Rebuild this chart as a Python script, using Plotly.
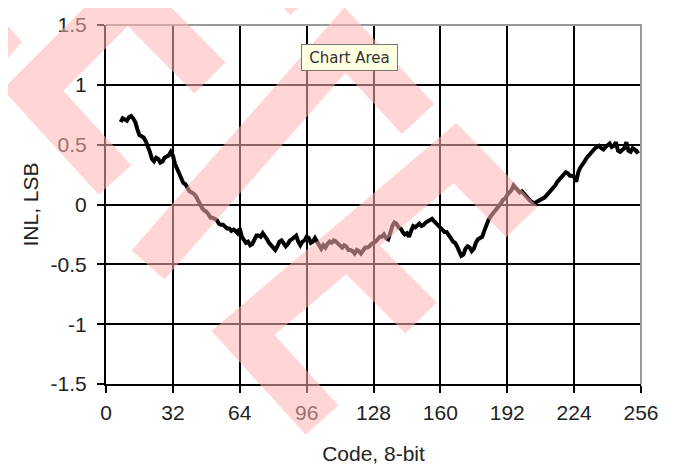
import plotly.graph_objects as go

# INL per code (codes 7..255)
inl = [
    0.69, 0.72, 0.71, 0.70, 0.73, 0.74, 0.72, 0.69, 0.63, 0.58,
    0.57, 0.56, 0.53, 0.49, 0.44, 0.38, 0.36, 0.39, 0.38, 0.35,
    0.36, 0.39, 0.40, 0.41, 0.44, 0.41, 0.34, 0.30, 0.25, 0.21,
    0.18, 0.17, 0.13, 0.11, 0.10, 0.09, 0.07, 0.03, 0.01, -0.03,
    -0.05, -0.06, -0.08, -0.11, -0.11, -0.12, -0.13, -0.16, -0.17, -0.17,
    -0.19, -0.20, -0.20, -0.22, -0.21, -0.22, -0.24, -0.20, -0.27, -0.30,
    -0.32, -0.31, -0.34, -0.33, -0.29, -0.26, -0.26, -0.27, -0.24, -0.26,
    -0.29, -0.32, -0.34, -0.35, -0.38, -0.35, -0.31, -0.30, -0.32, -0.35,
    -0.33, -0.30, -0.29, -0.27, -0.26, -0.31, -0.34, -0.31, -0.30, -0.27,
    -0.28, -0.32, -0.31, -0.28, -0.31, -0.35, -0.37, -0.34, -0.36, -0.33,
    -0.31, -0.32, -0.30, -0.31, -0.33, -0.35, -0.36, -0.34, -0.35, -0.38,
    -0.38, -0.39, -0.41, -0.38, -0.39, -0.41, -0.38, -0.36, -0.36, -0.35,
    -0.33, -0.32, -0.31, -0.29, -0.27, -0.27, -0.25, -0.28, -0.29, -0.24,
    -0.18, -0.15, -0.16, -0.19, -0.20, -0.23, -0.25, -0.24, -0.27, -0.22,
    -0.18, -0.19, -0.17, -0.16, -0.18, -0.17, -0.15, -0.14, -0.13, -0.12,
    -0.14, -0.16, -0.18, -0.20, -0.21, -0.23, -0.23, -0.25, -0.28, -0.31,
    -0.32, -0.35, -0.39, -0.43, -0.42, -0.37, -0.35, -0.36, -0.39, -0.37,
    -0.32, -0.29, -0.28, -0.27, -0.22, -0.17, -0.13, -0.10, -0.08, -0.06,
    -0.04, -0.01, 0.01, 0.04, 0.05, 0.08, 0.10, 0.12, 0.16, 0.14,
    0.13, 0.10, 0.11, 0.09, 0.07, 0.04, 0.03, 0.02, 0.01, 0.02,
    0.03, 0.04, 0.05, 0.06, 0.08, 0.10, 0.11, 0.14, 0.16, 0.19,
    0.21, 0.24, 0.26, 0.27, 0.26, 0.24, 0.24, 0.23, 0.19, 0.27,
    0.31, 0.33, 0.36, 0.39, 0.41, 0.43, 0.46, 0.47, 0.48, 0.49,
    0.47, 0.46, 0.48, 0.50, 0.51, 0.48, 0.49, 0.52, 0.45, 0.44,
    0.46, 0.47, 0.52, 0.45, 0.44, 0.47, 0.46, 0.44, 0.45,
]
codes = list(range(7, 7 + len(inl)))

x_ticks = [0, 32, 64, 96, 128, 160, 192, 224, 256]
y_ticks = [-1.5, -1, -0.5, 0, 0.5, 1, 1.5]
y_ticktext = ["-1.5", "-1", "-0.5", "0", "0.5", "1", "1.5"]

# the page body adds an 8px offset, so the figure is a bit smaller
OFF = 8
W, H = 677 - OFF, 468 - OFF
L, R, T, B = 106 - OFF, 36, 25 - OFF, 84


def px(x, y):
    # screen pixel position -> paper coords
    return (x - OFF - L) / (W - L - R), (H - B - (y - OFF)) / (H - T - B)


def path(points, close=False):
    s = ""
    for i, (x, y) in enumerate(points):
        u, v = px(x, y)
        s += ("M" if i == 0 else "L") + f"{u:.4f},{v:.4f} "
    return s + ("Z" if close else "")


fig = go.Figure()
fig.add_trace(go.Scatter(x=codes, y=inl, mode="lines",
                         line=dict(color="black", width=4),
                         showlegend=False, hoverinfo="skip"))

font = "Liberation Sans, Arial, sans-serif"
axis = dict(showgrid=True, gridcolor="black", gridwidth=2,
            showline=True, linecolor="black", linewidth=2,
            ticks="outside", ticklen=7, tickwidth=2, tickcolor="black",
            zeroline=False, automargin=False,
            tickfont=dict(family=font, size=21, color="#222"))

fig.update_layout(
    width=W, height=H,
    margin=dict(l=L, r=R, t=T, b=B),
    paper_bgcolor="white", plot_bgcolor="white",
    xaxis=dict(range=[0, 256], tickvals=x_ticks, ticklabelstandoff=2,
               title=dict(text="Code, 8-bit", font=dict(family=font, size=21, color="#222"),
                          standoff=23), **axis),
    yaxis=dict(range=[-1.5, 1.5], tickvals=y_ticks, ticktext=y_ticktext,
               ticklabelstandoff=6,
               title=dict(text="INL, LSB", font=dict(family=font, size=21, color="#222"),
                          standoff=6), **axis),
)

# gray top/right border of the plot area
fig.add_shape(type="path", xref="paper", yref="paper", layer="above",
              path="M0,1 L1,1 L1,0", line=dict(color="#999", width=2))

# "Chart Area" tooltip
fig.add_annotation(x=px(349.5, 0)[0], y=px(0, 57.5)[1], xref="paper", yref="paper",
                   text="Chart Area", showarrow=False, xanchor="center", yanchor="middle",
                   font=dict(family="DejaVu Sans", size=15, color="#333"),
                   bgcolor="#ffffe1", bordercolor="#777", borderwidth=1,
                   width=93, height=23, borderpad=1)

# pink watermark overlay (screen pixel centrelines)
pink = "rgba(255,178,178,0.55)"
strokes = [
    [(115, 180), (33, 90), (128, -5), (210, 78)],
    [(148, 265), (345, 40), (418, 119)],
]
c_path = path([(322, 420), (243, 333), (455, 153), (522, 222)]) + path([(346, 243), (421, 318)])
for s in strokes:
    fig.add_shape(type="path", xref="paper", yref="paper", layer="above",
                  path=path(s), line=dict(color=pink, width=44))
fig.add_shape(type="path", xref="paper", yref="paper", layer="above",
              path=c_path, line=dict(color=pink, width=44))
for tri in [[(0, 17), (22, 42), (0, 67)], [(277, 0), (290, 15), (308, 0)]]:
    fig.add_shape(type="path", xref="paper", yref="paper", layer="above",
                  path=path(tri, close=True), fillcolor=pink, line=dict(width=0))

fig.write_html("out.html")
